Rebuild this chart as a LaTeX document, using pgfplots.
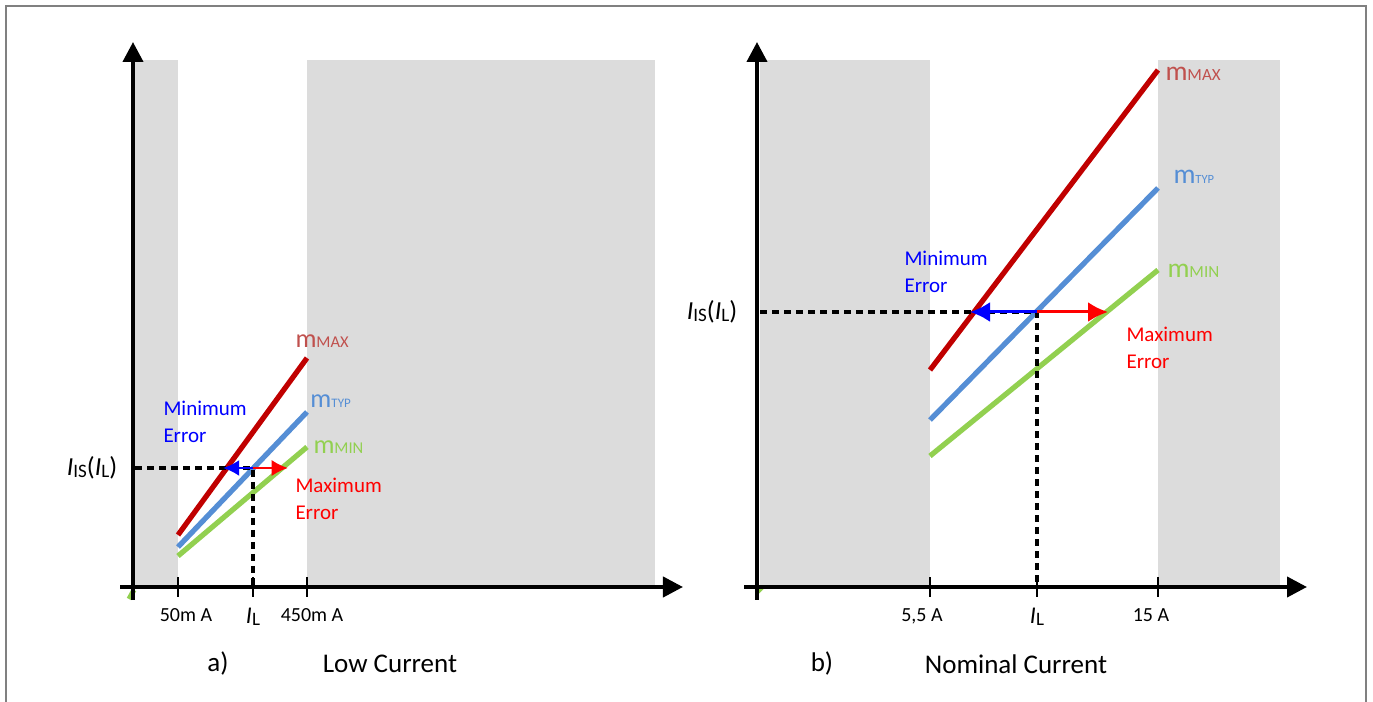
\documentclass[border=0pt]{standalone}
\usepackage{fontspec}
\setmainfont{Carlito}
\usepackage{pgfplots}
\pgfplotsset{compat=1.18}
\usetikzlibrary{arrows.meta}
\definecolor{shade}{RGB}{220,220,220}
\definecolor{cmax}{RGB}{192,0,0}
\definecolor{ctyp}{RGB}{85,142,213}
\definecolor{cmin}{RGB}{146,208,80}
\definecolor{tmax}{RGB}{192,80,77}
\definecolor{framec}{RGB}{128,128,128}
\newcommand{\mlab}[3]{{\fontsize{#1}{#1}\selectfont m}{\fontsize{#3}{#3}\selectfont #2}}
\newcommand{\sub}[1]{\raisebox{-0.9pt}{\fontsize{7.6pt}{8pt}\selectfont #1}}
\newcommand{\isl}{\textit{I}\sub{IS}(\textit{I}\sub{L})}
\pgfplotsset{panel/.style={
  scale only axis, width=225.2pt, height=223.2pt,
  xmin=-13, xmax=550, ymin=-13, ymax=545,
  axis lines=center, axis on top, clip=false,
  axis line style={line width=1.6pt, black},
  every inner x axis line/.append style={-{Triangle[width=8pt,length=8pt]}},
  every inner y axis line/.append style={-{Triangle[width=8pt,length=8pt]}},
  ytick=\empty,
  major tick length=8pt, tick align=center,
  tick style={line width=1pt, black},
  xticklabel style={font=\fontsize{8pt}{9pt}\selectfont, anchor=north, yshift=-1pt},
}}
\begin{document}
\begin{tikzpicture}
\path[use as bounding box] (0,0) rectangle (549.2pt,280.8pt);
\draw[framec, line width=0.6pt] (2.4pt,0) -- (2.4pt,278.4pt) -- (546.4pt,278.4pt) -- (546.4pt,0);

% ---------------- panel a ----------------
\begin{axis}[panel, at={(48pt,40.8pt)}, anchor=south west,
  xtick={45,120,174},
  xticklabels={\hspace*{6.4pt}50m A, {\fontsize{9.6pt}{10pt}\selectfont\textit{I}\sub{L}}, \hspace*{4pt}450m A}]
\addplot[draw=none, fill=shade] coordinates {(2,0) (45,0) (45,527) (2,527)} -- cycle;
\addplot[draw=none, fill=shade] coordinates {(174,0) (522,0) (522,527) (174,527)} -- cycle;
\addplot[cmin, line width=2pt] coordinates {(-4,-12) (1,-3)};
\addplot[cmax, line width=2.1pt] coordinates {(45,52) (174,229)};
\addplot[ctyp, line width=2.1pt] coordinates {(45,40) (174,175)};
\addplot[cmin, line width=2.1pt] coordinates {(45,31) (174,140)};
\addplot[black, line width=1.5pt, dash pattern=on 2.8pt off 2pt] coordinates {(2,119) (120,119) (120,0)};
\addplot[blue, line width=1.1pt, -{Latex[length=6.5pt,width=6.5pt]}] coordinates {(120,119) (90,119)};
\addplot[red, line width=1.1pt, -{Latex[length=6.5pt,width=6.5pt]}] coordinates {(120,119) (155,119)};
\node[font=\fontsize{10.4pt}{11pt}\selectfont] at (axis cs:-41,119) {\isl};
\node[anchor=west, text=blue, align=left, font=\fontsize{8.4pt}{10.8pt}\selectfont, inner sep=0pt] at (axis cs:30,165.5) {Minimum\\Error};
\node[anchor=west, text=red, align=left, font=\fontsize{8.4pt}{10.8pt}\selectfont, inner sep=0pt] at (axis cs:162,88) {Maximum\\Error};
\node[anchor=west, text=tmax, inner sep=0pt] at (axis cs:162,246) {\mlab{10.5pt}{MAX}{6.6pt}};
\node[anchor=west, text=ctyp, inner sep=0pt] at (axis cs:177,186) {\mlab{10.5pt}{TYP}{5.2pt}};
\node[anchor=west, text=cmin, inner sep=0pt] at (axis cs:180,140) {\mlab{10.5pt}{MIN}{6.6pt}};
\node[font=\fontsize{10.8pt}{12pt}\selectfont] at (axis cs:85,-77) {a)};
\node[font=\fontsize{10.8pt}{12pt}\selectfont] at (axis cs:257,-77) {Low Current};
\end{axis}

% ---------------- panel b ----------------
\begin{axis}[panel, at={(297.6pt,40.8pt)}, anchor=south west,
  xtick={173,280,401},
  xticklabels={{5,5 A\hspace*{6.4pt}}, {\fontsize{9.6pt}{10pt}\selectfont\textit{I}\sub{L}}, 15 A\hspace*{5.6pt}}]
\addplot[draw=none, fill=shade] coordinates {(3,0) (173,0) (173,527) (3,527)} -- cycle;
\addplot[draw=none, fill=shade] coordinates {(401,0) (523,0) (523,527) (401,527)} -- cycle;
\addplot[cmin, line width=2pt] coordinates {(0,-5) (5,0)};
\addplot[cmax, line width=2.1pt] coordinates {(173,217) (401,517)};
\addplot[ctyp, line width=2.1pt] coordinates {(173,167) (401,399)};
\addplot[cmin, line width=2.1pt] coordinates {(173,131) (401,317)};
\addplot[black, line width=1.5pt, dash pattern=on 2.8pt off 2pt] coordinates {(3,275) (280,275) (280,0)};
\addplot[blue, line width=1.2pt, -{Latex[length=8pt,width=8pt]}] coordinates {(280,275) (213,275)};
\addplot[red, line width=1.2pt, -{Latex[length=8pt,width=8pt]}] coordinates {(280,275) (351,275)};
\node[font=\fontsize{10.4pt}{11pt}\selectfont] at (axis cs:-45,275) {\isl};
\node[anchor=west, text=blue, align=left, font=\fontsize{8.4pt}{10.8pt}\selectfont, inner sep=0pt] at (axis cs:147,315.5) {Minimum\\Error};
\node[anchor=west, text=red, align=left, font=\fontsize{8.4pt}{10.8pt}\selectfont, inner sep=0pt] at (axis cs:369,239.5) {Maximum\\Error};
\node[anchor=west, text=tmax, inner sep=0pt] at (axis cs:408,513) {\mlab{11pt}{MAX}{6.8pt}};
\node[anchor=west, text=ctyp, inner sep=0pt] at (axis cs:416,410) {\mlab{11pt}{TYP}{5pt}};
\node[anchor=west, text=cmin, inner sep=0pt] at (axis cs:410,316) {\mlab{11pt}{MIN}{6.8pt}};
\node[font=\fontsize{10.8pt}{12pt}\selectfont] at (axis cs:65,-77) {b)};
\node[font=\fontsize{10.8pt}{12pt}\selectfont] at (axis cs:259,-77) {Nominal Current};
\end{axis}
\end{tikzpicture}
\end{document}
